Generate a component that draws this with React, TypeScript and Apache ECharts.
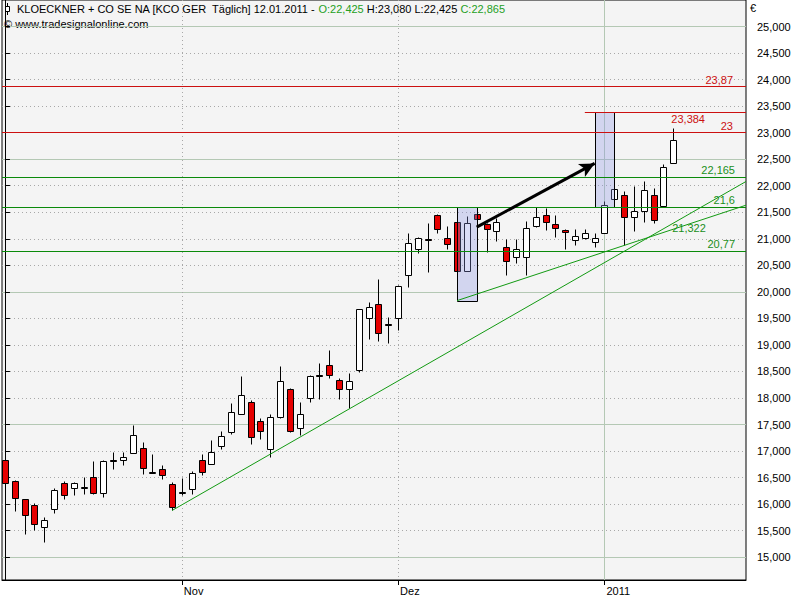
import React, { useEffect, useRef } from 'react';
import * as echarts from 'echarts';

// ---------- data ----------
const dates = [
  '2010-10-06','2010-10-07','2010-10-08','2010-10-11','2010-10-12','2010-10-13','2010-10-14','2010-10-15','2010-10-18','2010-10-19',
  '2010-10-20','2010-10-21','2010-10-22','2010-10-25','2010-10-26','2010-10-27','2010-10-28','2010-10-29',
  '2010-11-01','2010-11-02','2010-11-03','2010-11-04','2010-11-05','2010-11-08','2010-11-09','2010-11-10','2010-11-11','2010-11-12',
  '2010-11-15','2010-11-16','2010-11-17','2010-11-18','2010-11-19','2010-11-22','2010-11-23','2010-11-24','2010-11-25','2010-11-26',
  '2010-11-29','2010-11-30',
  '2010-12-01','2010-12-02','2010-12-03','2010-12-06','2010-12-07','2010-12-08','2010-12-09','2010-12-10','2010-12-13','2010-12-14',
  '2010-12-15','2010-12-16','2010-12-17','2010-12-20','2010-12-21','2010-12-22','2010-12-23','2010-12-27','2010-12-28','2010-12-29',
  '2010-12-30',
  '2011-01-03','2011-01-04','2011-01-05','2011-01-06','2011-01-07','2011-01-10','2011-01-11','2011-01-12'
];

const opens = [16.84,16.44,16.09,15.99,15.56,15.90,16.39,16.31,16.33,16.52,
  16.21,16.84,16.84,16.97,17.05,16.60,16.67,16.37,16.23,16.28,
  16.84,16.75,17.09,17.36,17.70,17.93,17.57,17.03,17.64,18.17,
  17.44,18.00,18.43,18.63,18.34,18.17,18.52,19.51,19.77,19.39,
  19.51,20.31,20.80,20.99,21.45,21.02,21.32,20.40,21.47,21.28,
  21.14,20.85,20.66,20.66,21.25,21.45,21.27,21.17,20.97,21.02,
  20.94,21.11,21.75,21.82,21.41,21.52,21.82,21.61,22.425];
const closes = [16.39,16.12,15.80,15.63,15.71,16.27,16.18,16.39,16.33,16.21,
  16.81,16.82,16.88,17.31,16.68,16.60,16.54,15.94,16.23,16.59,
  16.61,16.99,17.29,17.74,18.06,17.27,17.37,17.65,18.32,17.38,
  17.70,18.42,18.41,18.44,18.16,18.32,19.67,19.72,19.23,19.38,
  20.11,20.92,21.02,20.98,21.19,20.90,20.40,21.30,21.37,21.19,
  21.32,20.58,20.80,21.20,21.41,21.32,21.21,21.13,21.06,21.11,
  21.02,21.63,21.94,21.41,21.52,21.92,21.36,22.35,22.865];
const lows = [16.32,15.87,15.44,15.51,15.29,15.83,16.10,16.17,16.19,16.20,
  16.14,16.66,16.74,16.97,16.57,16.59,16.48,15.88,16.17,16.19,
  16.54,16.75,17.03,17.33,17.70,17.13,17.23,16.88,17.62,17.36,
  17.30,17.92,17.98,18.38,17.98,17.82,18.49,19.11,19.07,19.03,
  19.28,20.10,20.73,20.38,21.11,20.81,20.38,20.39,21.35,20.75,
  20.95,20.31,20.55,20.31,21.23,21.16,21.03,20.81,20.88,21.00,
  20.85,21.11,21.74,20.89,21.14,21.32,21.30,21.61,22.425];
const highs = [17.30,16.45,16.10,16.02,15.75,16.30,16.43,16.41,16.52,16.81,
  16.83,16.98,16.98,17.50,17.18,16.94,16.73,16.41,16.49,16.62,
  16.94,17.20,17.37,17.90,18.42,17.97,17.62,17.69,18.61,18.19,
  17.92,18.43,18.66,18.91,18.38,18.48,19.68,19.81,20.25,19.52,
  20.12,21.10,21.03,21.30,21.46,21.24,21.33,21.43,21.49,21.30,
  21.39,21.00,21.00,21.33,21.59,21.58,21.44,21.18,21.19,21.19,
  21.10,21.72,21.95,21.91,21.99,22.09,21.96,22.41,23.08];

const yTicks = [15,15.5,16,16.5,17,17.5,18,18.5,19,19.5,20,20.5,21,21.5,22,22.5,23,23.5,24,24.5,25];
const redLevels = [23.87, 23];
const greenLevels = [22.165, 21.6, 20.77];
const shortRedLevel = { fromIndex: 59, value: 23.384 };
// boxes: [fromIndex, toIndex, top, bottom]
const boxes = [[46, 48, 21.6, 19.835], [60, 62, 23.384, 21.6]];
// trend lines: [startIndex, startValue, endIndex, endValue]
const trendLines = [[17, 15.88, 75.4, 22.08], [46, 19.835, 75.4, 21.633]];
const arrowLine = [48, 21.22, 60, 22.42];
const trendValueLabel = { index: 69.6, value: 21.21, text: '21,322' };

const title = 'KLOECKNER + CO SE NA [KCO GER  Täglich]';
const deMonths = ['Jan','Feb','Mär','Apr','Mai','Jun','Jul','Aug','Sep','Okt','Nov','Dez'];

// ---------- helpers ----------
const FONT = '"Liberation Sans", Arial, sans-serif';
const RED = '#cc1010';
const GREEN_LINE = '#0a8a0a';
const GREEN_TEXT = '#1a8f1a';
const TREND = '#129a12';
const comma = (v: number) => String(v).replace('.', ',');
const fmt3 = (v: number) => v.toFixed(3).replace('.', ',');

const monthStarts: number[] = [];
for (let i = 1; i < dates.length; i++) {
  if (dates[i].slice(5, 7) !== dates[i - 1].slice(5, 7)) monthStarts.push(i);
}
const monthLabel = (i: number) => {
  const d = dates[i];
  const m = parseInt(d.slice(5, 7), 10);
  return m === 1 ? d.slice(0, 4) : deMonths[m - 1];
};

const X_MIN = -0.3;
const X_MAX = 75.4;

export default function App() {
  const ref = useRef<HTMLDivElement>(null);
  useEffect(() => {
    if (!ref.current) return;
    const chart = echarts.init(ref.current, undefined, { renderer: 'svg' });
    const candleData = dates.map((_, i) => [i, opens[i], closes[i], lows[i], highs[i]]);
    const last = dates.length - 1;
    const ld = dates[last];
    const dateStr = `${ld.slice(8, 10)}.${ld.slice(5, 7)}.${ld.slice(0, 4)}`;

    const markLineData: any[] = [];
    redLevels.forEach((v) => {
      markLineData.push({
        yAxis: v,
        lineStyle: { color: RED, width: 1, type: 'solid' },
        label: { show: true, formatter: comma(v), position: 'insideEndTop', color: RED, distance: [13, 1] },
      });
    });
    greenLevels.forEach((v) => {
      markLineData.push({
        yAxis: v,
        lineStyle: { color: GREEN_LINE, width: 1, type: 'solid' },
        label: { show: true, formatter: comma(v), position: 'insideEndTop', color: GREEN_TEXT, distance: [11, 1] },
      });
    });
    markLineData.push([
      {
        coord: [shortRedLevel.fromIndex, shortRedLevel.value],
        lineStyle: { color: RED, width: 1, type: 'solid' },
        label: { show: true, formatter: comma(shortRedLevel.value), position: 'insideEndBottom', color: RED, distance: [41, 1] },
      },
      { coord: [X_MAX, shortRedLevel.value] },
    ]);
    trendLines.forEach((t) => {
      markLineData.push([
        { coord: [t[0], t[1]], lineStyle: { color: TREND, width: 1, type: 'solid' }, label: { show: false } },
        { coord: [t[2], t[3]] },
      ]);
    });
    markLineData.push([
      { coord: [arrowLine[0], arrowLine[1]], symbol: 'none', lineStyle: { color: '#000', width: 3, type: 'solid' }, label: { show: false } },
      { coord: [arrowLine[2], arrowLine[3]], symbol: 'arrow', symbolSize: [11, 15] },
    ]);

    const option: any = {
      animation: false,
      backgroundColor: '#ffffff',
      textStyle: { fontFamily: FONT },
      grid: {
        left: 2, right: 54, top: 0, bottom: 20,
        show: true, backgroundColor: '#f4f4f4', borderColor: '#000', borderWidth: 1,
      },
      xAxis: {
        type: 'value', min: X_MIN, max: X_MAX,
        axisLine: { show: true, lineStyle: { color: '#000', width: 1 } },
        axisTick: { show: true, customValues: monthStarts, length: 5, lineStyle: { color: '#000' } },
        axisLabel: {
          show: true, customValues: monthStarts, formatter: (v: number) => monthLabel(Math.round(v)),
          align: 'left', margin: 5, padding: [0, 0, 0, 2], color: '#000', fontSize: 11, fontFamily: FONT,
        },
        splitLine: { show: false },
      },
      yAxis: [
        {
          type: 'value', position: 'right', min: 14.57, max: 25.5,
          minInterval: 0.5, maxInterval: 0.5, splitNumber: 22,
          axisLine: { show: true, lineStyle: { color: '#000', width: 1 } },
          axisTick: { show: true, customValues: yTicks, length: 5, lineStyle: { color: '#000' } },
          axisLabel: {
            show: true, customValues: yTicks,
            formatter: (v: number) => (v < 14.99 || v > 25.01 ? '' : fmt3(v)),
            margin: 11, color: '#000', fontSize: 11, fontFamily: FONT,
          },
          splitLine: { show: true, showMinLine: false, showMaxLine: false, lineStyle: { color: '#a8a8a8', width: 1, type: [1, 3] } },
        },
        {
          type: 'value', position: 'right', min: 14.57, max: 25.5,
          minInterval: 2.5, maxInterval: 2.5, splitNumber: 5,
          axisLine: { show: false }, axisTick: { show: false }, axisLabel: { show: false },
          splitLine: { show: true, showMinLine: false, showMaxLine: false, lineStyle: { color: '#b4c8b4', width: 1, type: 'solid' } },
        },
      ],
      series: [
        {
          type: 'custom', name: 'monthLines', z: 1, silent: true, clip: true,
          data: monthStarts.map((i) => [i, parseInt(dates[i].slice(5, 7), 10) === 1 ? 1 : 0]),
          encode: { x: 0 },
          renderItem: (params: any, api: any) => {
            const i = api.value(0);
            const yearStart = api.value(1) === 1;
            const p = api.coord([i, 20]);
            const x = Math.round(p[0]) + 0.5;
            const cs = params.coordSys;
            return {
              type: 'line',
              shape: { x1: x, y1: cs.y, x2: x, y2: cs.y + cs.height },
              style: yearStart
                ? { stroke: '#b4c8b4', lineWidth: 1 }
                : { stroke: '#a8a8a8', lineWidth: 1, lineDash: [1, 3] },
            };
          },
        },
        {
          type: 'custom', name: 'candles', z: 2, silent: true, clip: true,
          data: candleData,
          encode: { x: 0, y: [1, 2, 3, 4] },
          renderItem: (params: any, api: any) => {
            const i = api.value(0), o = api.value(1), c = api.value(2), l = api.value(3), h = api.value(4);
            const pO = api.coord([i, o]);
            const pC = api.coord([i, c]);
            const pL = api.coord([i, l]);
            const pH = api.coord([i, h]);
            const x = Math.round(pO[0]) + 0.5;
            let top = Math.round(Math.min(pO[1], pC[1])) + 0.5;
            let bot = Math.round(Math.max(pO[1], pC[1])) + 0.5;
            if (bot - top < 1) bot = top + 1;
            return {
              type: 'group',
              children: [
                { type: 'line', shape: { x1: x, y1: Math.round(pH[1]) + 0.5, x2: x, y2: Math.round(pL[1]) + 0.5 }, style: { stroke: '#000', lineWidth: 1 } },
                { type: 'rect', shape: { x: x - 3, y: top, width: 6, height: bot - top }, style: { fill: c >= o ? '#ffffff' : '#e60000', stroke: '#000', lineWidth: 1 } },
              ],
            };
          },
        },
        {
          type: 'custom', name: 'boxes', z: 3, silent: true, clip: true,
          data: boxes,
          encode: { x: [0, 1], y: [2, 3] },
          renderItem: (params: any, api: any) => {
            const p1 = api.coord([api.value(0), api.value(2)]);
            const p2 = api.coord([api.value(1), api.value(3)]);
            const x1 = Math.round(p1[0]) + 0.5, y1 = Math.round(p1[1]) + 0.5;
            const x2 = Math.round(p2[0]) + 0.5, y2 = Math.round(p2[1]) + 0.5;
            return {
              type: 'rect',
              shape: { x: x1, y: y1, width: x2 - x1, height: y2 - y1 },
              style: { fill: 'rgba(140,150,230,0.32)', stroke: '#000', lineWidth: 1 },
            };
          },
          markLine: {
            silent: true, animation: false, symbol: ['none', 'none'], precision: 3,
            label: { fontSize: 11, fontFamily: FONT },
            data: markLineData,
          },
          markPoint: {
            silent: true, animation: false,
            data: [{
              coord: [trendValueLabel.index, trendValueLabel.value], symbol: 'circle', symbolSize: 0,
              label: { show: true, position: 'inside', formatter: trendValueLabel.text, color: GREEN_TEXT, fontSize: 11, fontFamily: FONT },
            }],
          },
        },
      ],
      graphic: [
        { type: 'line', shape: { x1: 7.5, y1: 3, x2: 7.5, y2: 15 }, style: { stroke: '#000', lineWidth: 1 } },
        { type: 'rect', shape: { x: 5.5, y: 6.5, width: 4, height: 5 }, style: { fill: '#fff', stroke: '#000', lineWidth: 1 } },
        {
          type: 'text', x: 17, y: 3,
          style: {
            text: `{k|${title} ${dateStr} - }{g|O:${fmt3(opens[last])}}{k| H:${fmt3(highs[last])} L:${fmt3(lows[last])} }{g|C:${fmt3(closes[last])}}`,
            rich: {
              k: { fill: '#000', font: `11px ${FONT}` },
              g: { fill: '#24a024', font: `11px ${FONT}` },
            },
            font: `11px ${FONT}`, verticalAlign: 'top',
          },
        },
        {
          type: 'text', x: 4, y: 18,
          style: { text: '© www.tradesignalonline.com', fill: '#000', font: `11px ${FONT}`, verticalAlign: 'top' },
        },
        {
          type: 'text', x: 750, y: 2,
          style: { text: '€', fill: '#000', font: `11px ${FONT}`, verticalAlign: 'top' },
        },
      ],
    };
    chart.setOption(option);
    return () => chart.dispose();
  }, []);
  return <div ref={ref} style={{ position: 'fixed', left: 0, top: 0, width: 800, height: 600 }} />;
}
